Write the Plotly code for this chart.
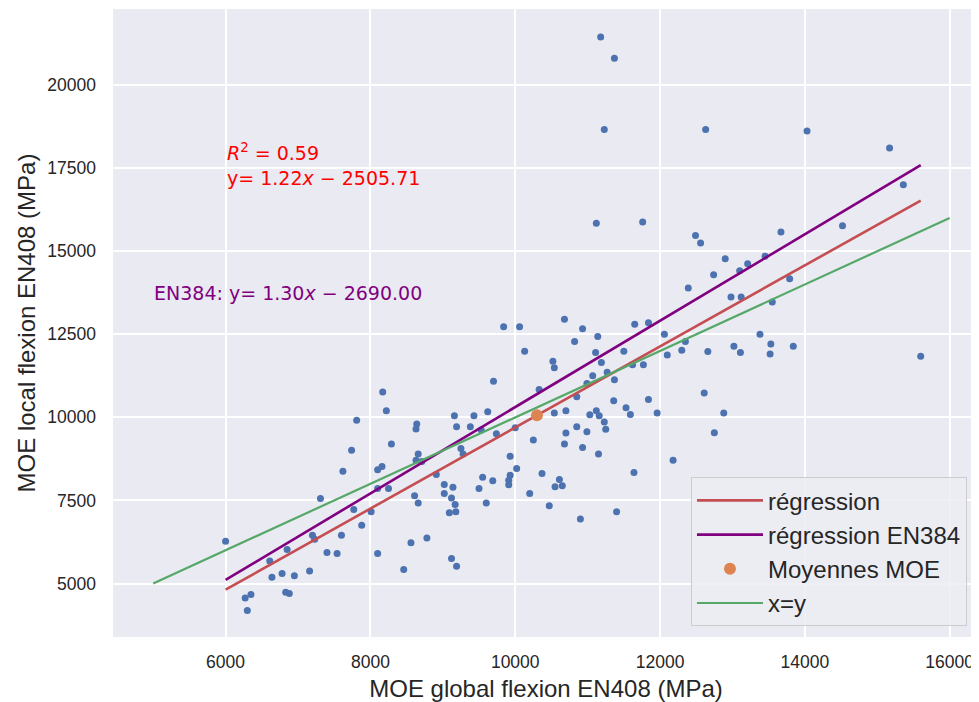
import plotly.graph_objects as go

# ---------------- data ----------------
moe_global = [
    9840, 10060, 10130, 10520, 10540, 9700, 8170, 10330, 8220, 7810,
    9160, 9430, 9620, 8640, 8630, 9190, 9380, 9530, 9740, 10000,
    10250, 8290, 7740, 8660, 8630, 8710, 9250, 9280, 9930, 8160,
    8100, 7620, 8910, 10020, 9550, 9690, 9930, 9910, 9910, 10370,
    9020, 9140, 9500, 8100, 8250, 10200, 9020, 8610, 7310, 9120,
    8660, 9170, 9600, 10470, 7770, 8010, 9090, 9180, 7880, 7200,
    7230, 7600, 6000, 6850, 7400, 7540, 8100, 8780, 8560, 6610,
    6640, 6780, 6950, 7160, 8460, 9120, 9190, 6270, 6350, 6300,
    6830, 6880,
    10680, 10930, 11140, 10820, 11650, 11840, 12060, 12350, 12300, 12100,
    12660, 13020, 13110, 13380, 13530, 13520, 13840, 15600, 11110, 11500,
    11190, 11620, 11770, 11070, 10990, 11270, 11370, 10850, 11360, 11840,
    12610, 10540, 10700, 11030, 11120, 11160, 11230, 11250, 11530, 11590,
    11960, 12880, 10850, 10990, 10700, 10680, 10930, 11150, 12750, 12180,
    10610, 10550, 10650, 11640, 10900, 11400,
    11180, 11370, 11230, 12630, 14030, 15170, 15360, 11120, 11760, 14520,
    12490, 12560, 13670, 12900, 13450, 13210, 13100, 12740, 12390, 13790,
    12980, 13120, 13550,
]
moe_local = [
    12730, 12730, 11990, 11690, 11490, 11090, 10760, 10840, 10200, 9910,
    10050, 10050, 10170, 9800, 9650, 9720, 9720, 9620, 9510, 9690,
    9320, 9200, 9010, 8900, 8710, 8670, 9060, 8900, 8830, 8520,
    8420, 8380, 8280, 8460, 8200, 8090, 8260, 8110, 7970, 8310,
    7980, 7900, 7860, 7860, 7860, 7710, 7710, 7640, 7560, 7570,
    7420, 7380, 7420, 7340, 7230, 7160, 7130, 7160, 6750, 6450,
    6330, 6450, 6270, 6020, 5930, 5900, 5900, 6370, 6230, 5680,
    5190, 5300, 5230, 5380, 5420, 5750, 5520, 4560, 4670, 4190,
    4740, 4700,
    12950, 12670, 12430, 12280, 12800, 12850, 12500, 12280, 12020, 11880,
    11980, 12140, 11950, 12500, 12210, 11910, 12140, 11840, 11950, 11990,
    11650, 11580, 11580, 11250, 11020, 11360, 11130, 10620, 10500, 10540,
    10730, 10130, 10200, 10080, 10200, 10050, 9860, 9640, 10290, 10090,
    10130, 10130, 9720, 9570, 9530, 9200, 9090, 8900, 9540, 8710,
    8130, 7910, 7940, 8340, 6940, 7160,
    21450, 20810, 18660, 18660, 18620, 18110, 17000, 15840, 15880, 15770,
    15470, 15250, 15580, 14770, 14850, 14620, 14410, 14290, 13890, 14170,
    13620, 13620, 13470,
]

mean_global = [10300]
mean_local = [10060]

reg_slope, reg_intercept = 1.22, -2505.71
en384_slope, en384_intercept = 1.30, -2690.00
reg_x = [6000, 15600]
identity_x = [5000, 16000]

x_ticks = [6000, 8000, 10000, 12000, 14000, 16000]
y_ticks = [5000, 7500, 10000, 12500, 15000, 17500, 20000]

# ---------------- colours ----------------
BLUE = "#4C72B0"
RED = "#C44E52"
PURPLE = "#800080"
ORANGE = "#DD8452"
GREEN = "#55A868"
BG = "#EAEAF2"
TXT = "#262626"

fig = go.Figure()

fig.add_trace(go.Scatter(
    x=moe_global, y=moe_local, mode="markers",
    marker=dict(color=BLUE, size=7, line=dict(width=0)),
    showlegend=False, hoverinfo="x+y",
))

fig.add_trace(go.Scatter(
    x=reg_x, y=[reg_slope * v + reg_intercept for v in reg_x],
    mode="lines", line=dict(color=RED, width=2.6), name="régression",
))
fig.add_trace(go.Scatter(
    x=reg_x, y=[en384_slope * v + en384_intercept for v in reg_x],
    mode="lines", line=dict(color=PURPLE, width=2.6), name="régression EN384",
))
fig.add_trace(go.Scatter(
    x=mean_global, y=mean_local, mode="markers",
    marker=dict(color=ORANGE, size=12, line=dict(width=0)),
    name="Moyennes MOE",
))
fig.add_trace(go.Scatter(
    x=identity_x, y=identity_x, mode="lines",
    line=dict(color=GREEN, width=2.2), name="x=y",
))

fig.add_annotation(
    x=5990, y=17610, xref="x", yref="y", xanchor="left", yanchor="middle",
    align="left", showarrow=False,
    text="<i>R</i><sup>2</sup> = 0.59<br>y= 1.22<i>x</i> − 2505.71",
    font=dict(family="DejaVu Sans", size=19, color="#FF0000"),
)
fig.add_annotation(
    x=4990, y=13744, xref="x", yref="y", xanchor="left", yanchor="middle",
    align="left", showarrow=False,
    text="EN384: y= 1.30<i>x</i> − 2690.00",
    font=dict(family="DejaVu Sans", size=19, color=PURPLE),
)

# The page adds an 8 px body margin, so the figure is sized to end at the window edge.
fig.update_layout(
    width=971, height=694,
    margin=dict(l=105, r=0, t=1, b=65, autoexpand=False),
    paper_bgcolor="white",
    plot_bgcolor=BG,
    font=dict(family="Liberation Sans, Arial, sans-serif", color=TXT),
    legend=dict(
        x=0.6674, y=0.017, xanchor="left", yanchor="bottom",
        bgcolor="rgba(236,236,243,0.85)", bordercolor="#CCCCCC", borderwidth=1,
        font=dict(size=24, color=TXT),
        itemwidth=66,
    ),
    showlegend=True,
)
fig.update_xaxes(
    range=[4445, 16405], tickvals=x_ticks, tickformat="d", automargin=False,
    showgrid=True, gridcolor="white", gridwidth=1.5, zeroline=False,
    showline=False, ticks="", tickfont=dict(size=17.5, color=TXT),
    ticklabelstandoff=12,
    title=dict(text="MOE global flexion EN408 (MPa)", font=dict(size=24, color=TXT), standoff=12),
)
fig.update_yaxes(
    range=[3390, 22290], tickvals=y_ticks, tickformat="d", automargin=False,
    showgrid=True, gridcolor="white", gridwidth=1.5, zeroline=False,
    showline=False, ticks="", tickfont=dict(size=17.5, color=TXT),
    ticklabelstandoff=16,
    title=dict(text="MOE local flexion EN408 (MPa)", font=dict(size=24, color=TXT), standoff=4),
)

fig.write_html("out.html")
